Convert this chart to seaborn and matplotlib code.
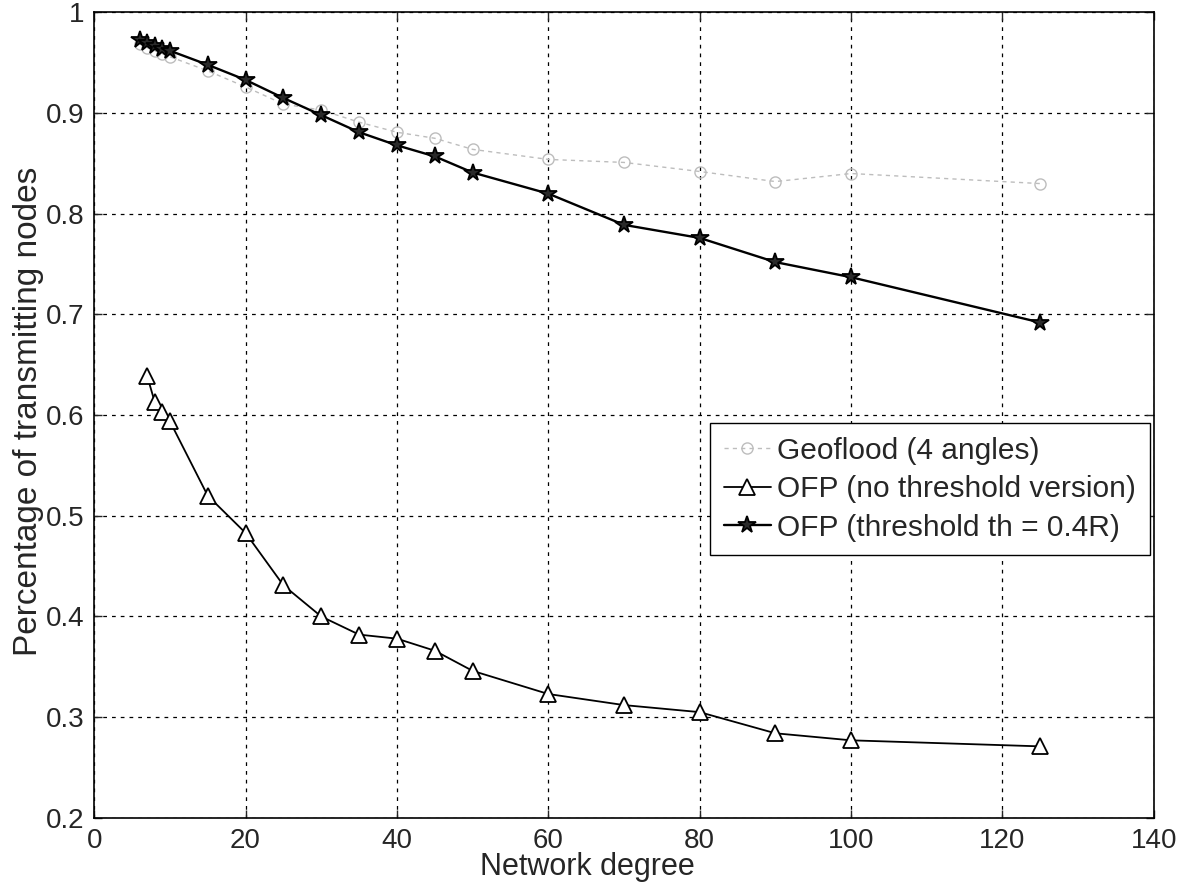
import numpy as np
import pandas as pd
import matplotlib
matplotlib.use("Agg")
import matplotlib.pyplot as plt
from matplotlib.ticker import FuncFormatter
import seaborn as sns

# Data
degree = [6, 7, 8, 9, 10, 15, 20, 25, 30, 35, 40, 45, 50, 60, 70, 80, 90, 100, 125]
degree_ofp = [7, 8, 9, 10, 15, 20, 25, 30, 35, 40, 45, 50, 60, 70, 80, 90, 100, 125]

geoflood = [0.969, 0.965, 0.962, 0.959, 0.956, 0.942, 0.926, 0.909, 0.903, 0.891,
            0.881, 0.875, 0.864, 0.854, 0.851, 0.842, 0.832, 0.840, 0.830]
ofp_no_th = [0.639, 0.613, 0.603, 0.594, 0.520, 0.483, 0.431, 0.400, 0.382, 0.378,
             0.366, 0.346, 0.323, 0.312, 0.305, 0.284, 0.277, 0.271]
ofp_th = [0.973, 0.970, 0.967, 0.964, 0.962, 0.948, 0.933, 0.915, 0.898, 0.881,
          0.868, 0.857, 0.841, 0.820, 0.789, 0.776, 0.752, 0.737, 0.692]

labels = ["Geoflood (4 angles)", "OFP (no threshold version)", "OFP (threshold th = 0.4R)"]

sns.set_style("white")
plt.rcParams['font.family'] = ['Liberation Sans', 'DejaVu Sans']

fig = plt.figure(figsize=(11.92, 8.88), dpi=100)
ax = fig.add_axes([0.079, 0.079, 0.889, 0.907])

df_geo = pd.DataFrame({"x": degree, "y": geoflood})
df_no = pd.DataFrame({"x": degree_ofp, "y": ofp_no_th})
df_th = pd.DataFrame({"x": degree, "y": ofp_th})

sns.lineplot(data=df_geo, x="x", y="y", ax=ax, sort=False, estimator=None,
             color="#bdbdbd", linestyle=(0, (3, 3)), linewidth=1.0,
             marker="o", markersize=8, markerfacecolor="none",
             markeredgecolor="#bdbdbd", markeredgewidth=1.0, label=labels[0])
sns.lineplot(data=df_no, x="x", y="y", ax=ax, sort=False, estimator=None,
             color="black", linewidth=1.3,
             marker="^", markersize=11, markerfacecolor="white",
             markeredgecolor="black", markeredgewidth=1.3, label=labels[1])
sns.lineplot(data=df_th, x="x", y="y", ax=ax, sort=False, estimator=None,
             color="black", linewidth=1.7,
             marker="*", markersize=13, markerfacecolor="#2a2a2a",
             markeredgecolor="black", markeredgewidth=1.3, label=labels[2])

ax.set_xlim(0, 140)
ax.set_ylim(0.2, 1.0)
ax.set_xticks(np.arange(0, 141, 20))
ax.set_yticks(np.arange(0.2, 1.01, 0.1))
ax.yaxis.set_major_formatter(FuncFormatter(lambda v, p: "%g" % round(v, 1)))

ax.grid(True, color="black", linestyle=(0, (3, 4)), linewidth=0.9)
ax.tick_params(direction="in", length=6, width=1, labelsize=20, pad=7,
               top=True, right=True, bottom=True, left=True)
for s in ax.spines.values():
    s.set_color("black")
    s.set_linewidth(1.2)

ax.set_xlabel("Network degree", fontsize=22)
ax.set_ylabel("Percentage of transmitting nodes", fontsize=24)
ax.xaxis.set_label_coords(0.465, -0.043)
ax.yaxis.set_label_coords(-0.047, 0.505)

leg = ax.legend(loc="upper right", bbox_to_anchor=(0.996, 0.49), fontsize=21.5,
                frameon=True, fancybox=False, framealpha=1, edgecolor="black",
                handlelength=1.6, handletextpad=0.2, borderpad=0.45,
                labelspacing=0.35, borderaxespad=0)
leg.get_frame().set_linewidth(1.0)

fig.savefig("out.png", dpi=100)
